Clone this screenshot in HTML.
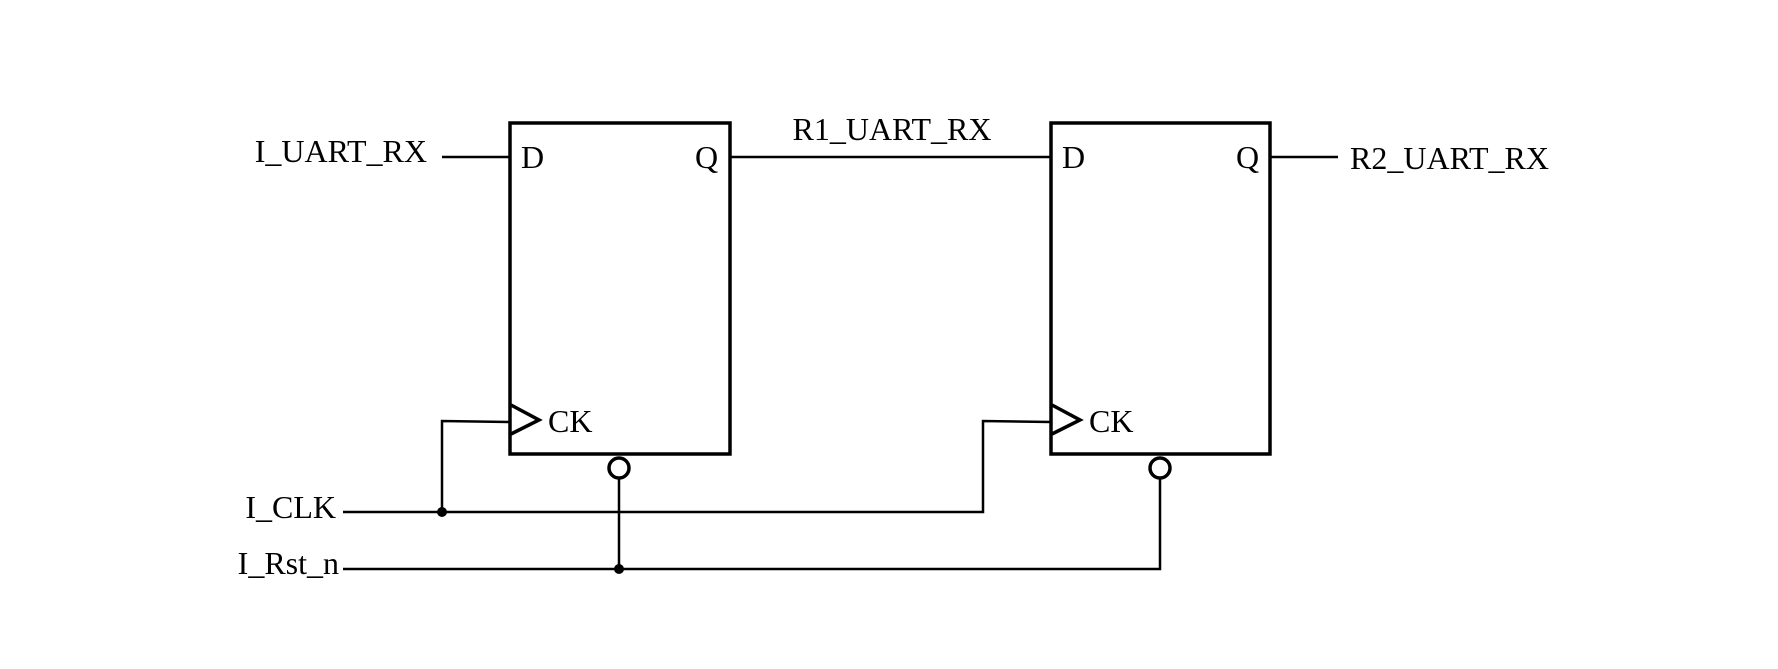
<!DOCTYPE html>
<html><head><style>html,body{margin:0;padding:0;background:#fff}</style></head>
<body>
<svg width="1778" height="669" viewBox="0 0 1778 669" xmlns="http://www.w3.org/2000/svg" style="display:block">
<g font-family="Liberation Serif, serif" font-size="32" fill="#000">
<text x="427" y="162" text-anchor="end">I_UART_RX</text>
<text x="892" y="140" text-anchor="middle">R1_UART_RX</text>
<text x="1350" y="169">R2_UART_RX</text>
<text x="336" y="518" text-anchor="end">I_CLK</text>
<text x="339" y="574" text-anchor="end">I_Rst_n</text>
<text x="521" y="168">D</text>
<text x="695" y="168">Q</text>
<text x="548" y="432">CK</text>
<text x="1062" y="168">D</text>
<text x="1236" y="168">Q</text>
<text x="1089" y="432">CK</text>
</g>
<g fill="none" stroke="#000" stroke-width="3.5" stroke-linejoin="miter">
<rect x="510" y="123" width="220" height="331"/>
<rect x="1051" y="123" width="219" height="331"/>
<polyline points="511,405 539,420 511,434"/>
<polyline points="1052,405 1080,420 1052,434"/>
<circle cx="619" cy="468" r="10"/>
<circle cx="1160" cy="468" r="10"/>
</g>
<g fill="none" stroke="#000" stroke-width="2.5">
<line x1="442" y1="157" x2="510" y2="157"/>
<line x1="730" y1="157" x2="1051" y2="157"/>
<line x1="1270" y1="157" x2="1338" y2="157"/>
<polyline points="510,422 442,421 442,512"/>
<polyline points="343,512 983,512 983,421 1051,422"/>
<line x1="619" y1="478" x2="619" y2="569"/>
<polyline points="343,569 1160,569 1160,478"/>
</g>
<circle cx="442" cy="512" r="5" fill="#000"/>
<circle cx="619" cy="569" r="5" fill="#000"/>
</svg>
</body></html>
